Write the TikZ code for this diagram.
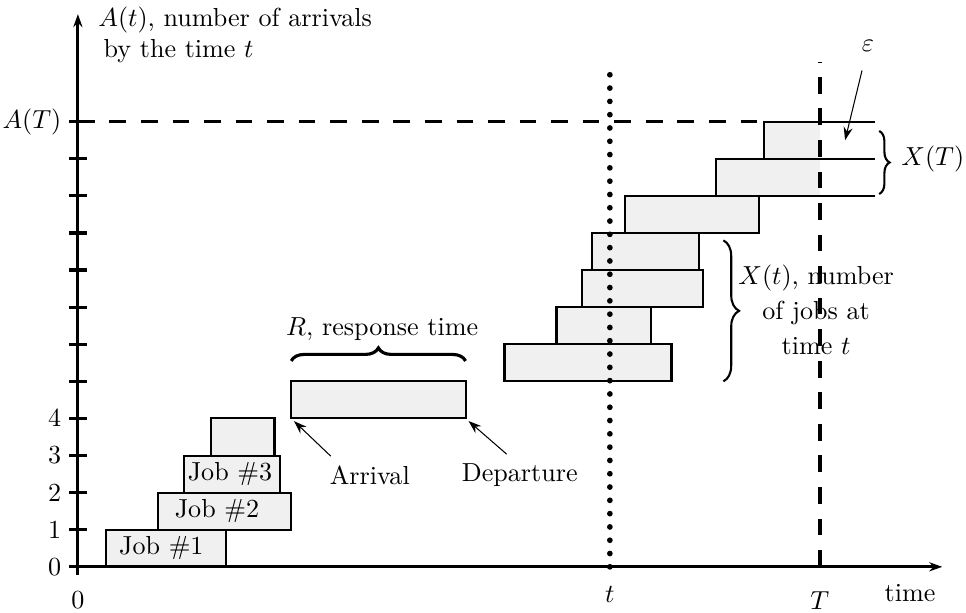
\documentclass[tikz,border=0pt]{standalone}
\usepackage{amsmath,amssymb}
\usetikzlibrary{arrows.meta,decorations.pathreplacing}
\definecolor{BoxGray}{HTML}{F0F0F0}

\begin{document}
\begin{tikzpicture}[
    x=0.5cm,y=0.5cm,
    jobbox/.style={draw,thick,fill=BoxGray},
    axisline/.style={very thick},
    brace/.style={decorate,decoration={brace,amplitude=#1}},
    pointer/.style={->,thin},
    guide/.style={dash pattern=on 6.4pt off 5.7pt},
    >={Stealth[length=5pt,width=3.5pt]}
  ]
  \useasboundingbox (-2.1,-1.24) rectangle (23.94,15.28);

  % jobs, one per level of A(t)
  \foreach \a/\b/\l in {0.75/4/0, 2.15/5.75/1, 2.85/5.45/2, 3.6/5.3/3, 5.75/10.45/4,
      11.5/16/5, 12.9/15.45/6, 13.6/16.85/7, 13.85/16.75/8, 14.75/18.35/9}
    \draw[jobbox] (\a,\l) rectangle (\b,\l+1);
  % the two jobs still in the system at T
  \fill[BoxGray] (17.2,10) rectangle (20,11) (18.5,11) rectangle (20,12);
  \draw[thick] (21.5,10) -- (17.2,10) -- (17.2,11) -- (21.5,11)
    (18.5,11) -- (18.5,12) -- (21.5,12);

  \node (job1) at (2.25,0.5) {Job \#1};
  \node (job2) at (3.75,1.5) {Job \#2};
  \node (job3) at (4.1,2.5) {Job \#3};

  % axes and ticks
  \coordinate (origin) at (0,0);
  \coordinate (xend) at (23.3,0);
  \coordinate (yend) at (0,14.9);
  \draw[axisline,->] (-0.22,0) -- (xend);
  \draw[axisline,->] (0,-0.22) -- (yend);
  \foreach \l in {0,...,12}
    \draw[axisline] (-0.24,\l) -- (0.24,\l);
  \foreach \l in {0,...,4}
    \node[left] (lab\l) at (-0.2,\l) {$\l$};
  \node[left] (labAT) at (-0.2,12) {$A(T)$};
  \node[anchor=north west,inner sep=0pt,align=left] (ylab) at (0.54,15.12)
    {$A(t)$, number of arrivals\\\hspace*{0.2em}by the time $t$};

  \node (zero) at (0,-0.89) {$0$};
  \node (tlab) at (14.34,-0.74) {$t$};
  \node (Tlab) at (20,-0.9) {$T$};
  \node (xlab) at (22.43,-0.72) {time};

  % time marks t and T, level A(T)
  \draw[line width=2.2pt,line cap=round,dash pattern=on 0pt off 5.1pt]
    (14.34,0) -- (14.34,13.5);
  \draw[line width=1.3pt,guide] (20,0) -- (20,13.62);
  \draw[line width=1pt,guide] (0,12) -- (18.5,12);

  % response time of one job
  \coordinate (rbox-sw) at (5.75,4);
  \coordinate (rbox-se) at (10.45,4);
  \draw[brace=5pt,very thick] (5.75,5.55) -- (10.45,5.55);
  \node (rlab) at (8.2,6.4) {$R,$ response time};
  \node (arrlab) at (7.87,2.48) {Arrival};
  \node (deplab) at (11.91,2.48) {Departure};
  \draw[pointer,shorten >=1.5pt] ([xshift=-15pt]arrlab.north) -- (rbox-sw);
  \draw[pointer,shorten >=1.5pt] ([xshift=-5pt]deplab.north) -- (rbox-se);

  % number in system
  \draw[brace=6pt,thick] (17.4,8.8) -- (17.4,5);
  \node[align=center] (xtlab) at (19.9,6.93)
    {$X(t)$, number\\[1.5pt]of jobs at\\[1.5pt]time $t$};
  \draw[brace=4pt,thick] (21.6,11.75) -- (21.6,10.05);
  \node[anchor=west] (xTlab) at (21.95,11) {$X(T)$};

  \coordinate (epsend) at (20.68,11.5);
  \node (epslab) at (21.3,14.05) {$\varepsilon$};
  \draw[pointer,shorten <=4pt] (epslab) -- (epsend);
\end{tikzpicture}
\end{document}
